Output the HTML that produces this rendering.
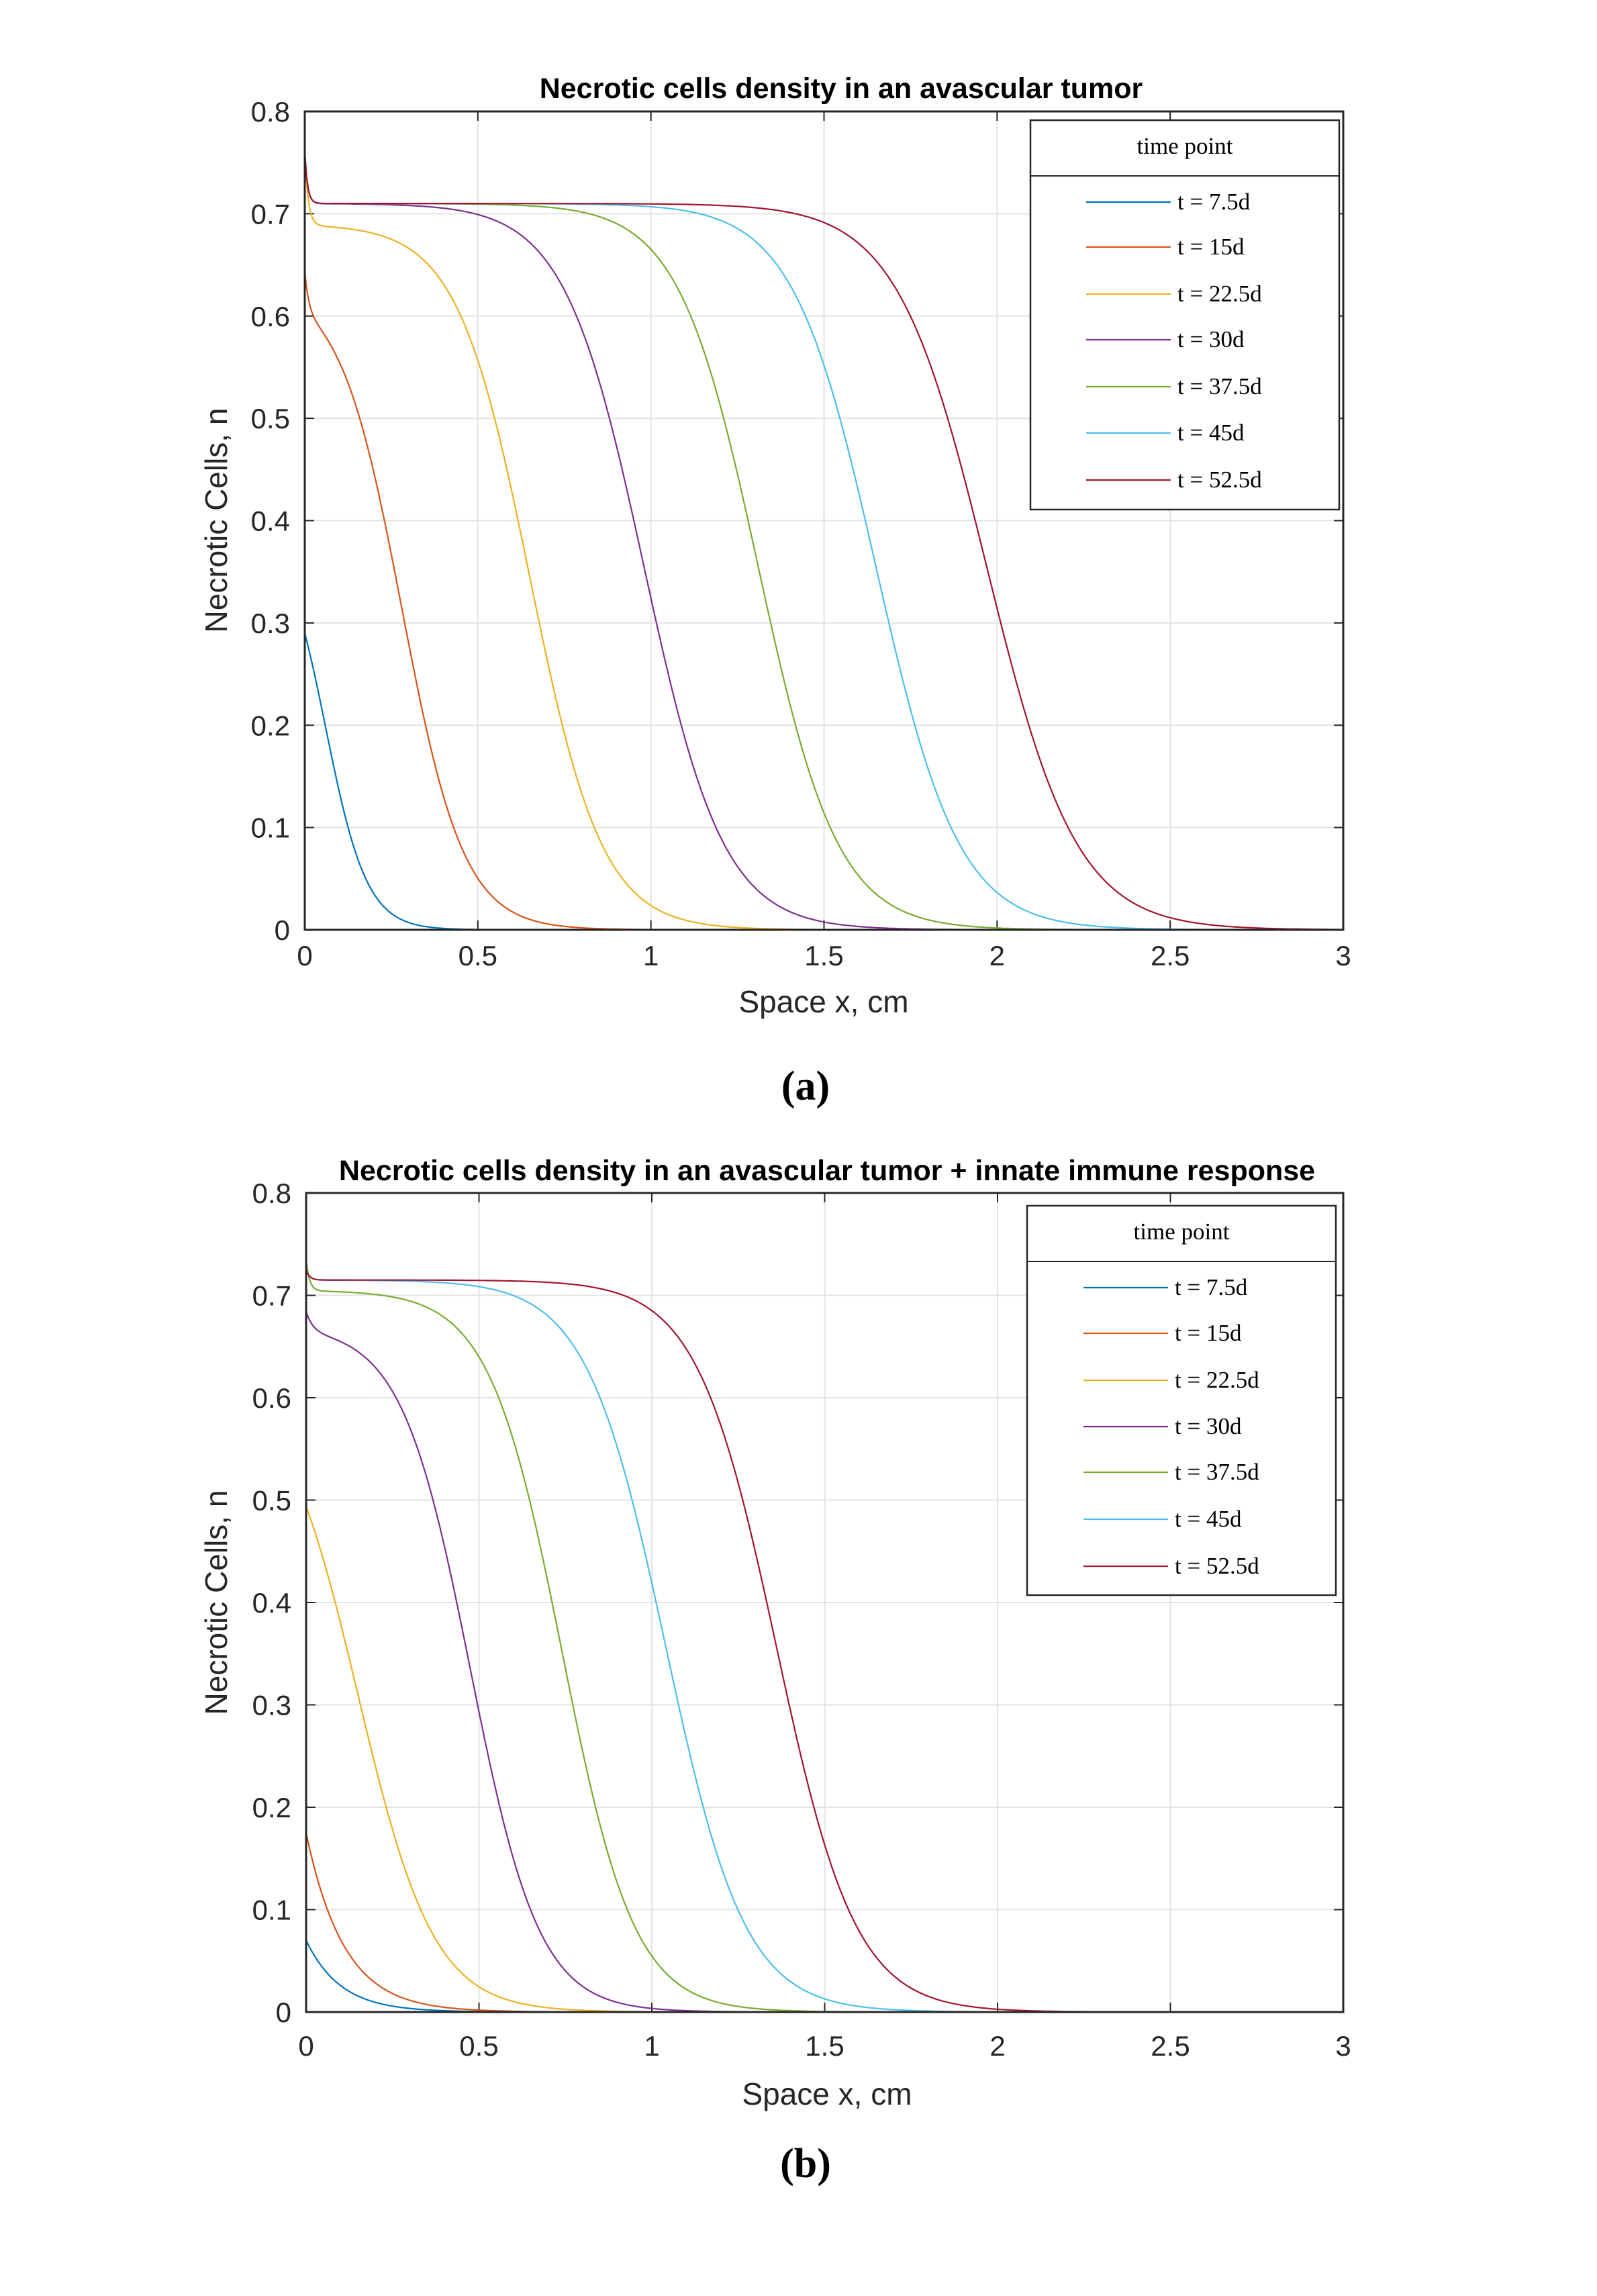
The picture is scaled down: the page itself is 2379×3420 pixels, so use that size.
<!DOCTYPE html>
<html><head><meta charset="utf-8"><style>
html,body{margin:0;padding:0;background:#fff;width:2379px;height:3420px;overflow:hidden}
svg{display:block}
</style></head><body>
<svg id="s" width="2379" height="3420" xmlns="http://www.w3.org/2000/svg" font-family="Liberation Sans, sans-serif">
<rect width="2379" height="3420" fill="#fff"/>
<g id="pa"></g>
<g id="pb"></g>
<text x="1253" y="146" font-size="43" font-weight="bold" text-anchor="middle" fill="#000">Necrotic cells density in an avascular tumor</text>
<text x="1232" y="1758" font-size="43" font-weight="bold" text-anchor="middle" fill="#000">Necrotic cells density in an avascular tumor + innate immune response</text>
<text transform="translate(338,775) rotate(-90)" font-size="46" text-anchor="middle" fill="#262626">Necrotic Cells, n</text>
<text transform="translate(338,2387) rotate(-90)" font-size="46" text-anchor="middle" fill="#262626">Necrotic Cells, n</text>
<text x="1227" y="1508" font-size="46" text-anchor="middle" fill="#262626">Space x, cm</text>
<text x="1232" y="3135" font-size="46" text-anchor="middle" fill="#262626">Space x, cm</text>
<text x="1200" y="1638" font-size="62" font-weight="bold" text-anchor="middle" font-family="Liberation Serif, serif">(a)</text>
<text x="1200" y="3243" font-size="62" font-weight="bold" text-anchor="middle" font-family="Liberation Serif, serif">(b)</text>
</svg>
<script>
var NS="http://www.w3.org/2000/svg";
function el(p,t,a,txt){var e=document.createElementNS(NS,t);for(var k in a)e.setAttribute(k,a[k]);if(txt!==undefined)e.textContent=txt;p.appendChild(e);return e;}
var cols=["#0072BD","#D95319","#EDB120","#7E2F8E","#77AC30","#4DBEEE","#A2142F"];
var labs=["t = 7.5d","t = 15d","t = 22.5d","t = 30d","t = 37.5d","t = 45d","t = 52.5d"];
function lg(P,m,w){return function(x){return P/(1+Math.exp((x-m)/w));};}
function spike(f,a0,d){return function(x){return f(x)+a0*Math.exp(-x/d);};}
var fa=[
 function(x){return 0.29*(1+Math.exp(-0.06/0.06))/(1+Math.exp((x-0.06)/0.06));},
 spike(lg(0.63,0.28,0.09),0.04,0.012),
 spike(lg(0.69,0.65,0.105),0.07,0.01),
 spike(lg(0.71,0.98,0.115),0.05,0.008),
 spike(lg(0.71,1.31,0.115),0.05,0.008),
 spike(lg(0.71,1.65,0.12),0.05,0.008),
 spike(lg(0.71,1.97,0.13),0.05,0.008)
];
var fb=[
 function(x){return 0.07*Math.exp(-x/0.1);},
 function(x){return 0.175*Math.exp(-x/0.11);},
 lg(0.62,0.15,0.11),
 spike(lg(0.67,0.475,0.1),0.02,0.02),
 spike(lg(0.705,0.74,0.105),0.03,0.01),
 spike(lg(0.715,1.04,0.115),0.01,0.01),
 spike(lg(0.715,1.36,0.115),0.01,0.01)
];
function plot(g,L,T,R,B,fs,leg,xtY){
 var W=R-L,H=B-T;
 function X(x){return L+x*W/3;} function Y(n){return B-n*H/0.8;}
 for(var i=1;i<6;i++)el(g,"line",{x1:X(i*0.5),x2:X(i*0.5),y1:T,y2:B,stroke:"#e3e3e3","stroke-width":2});
 for(var j=1;j<8;j++)el(g,"line",{x1:L,x2:R,y1:Y(j*0.1),y2:Y(j*0.1),stroke:"#e3e3e3","stroke-width":2});
 for(var i=0;i<7;i++){el(g,"line",{x1:X(i*0.5),x2:X(i*0.5),y1:B,y2:B-14,stroke:"#262626","stroke-width":2});el(g,"line",{x1:X(i*0.5),x2:X(i*0.5),y1:T,y2:T+14,stroke:"#262626","stroke-width":2});
  el(g,"text",{x:X(i*0.5),y:xtY,"font-size":42,"text-anchor":"middle",fill:"#262626"},String(i*0.5));}
 for(var j=0;j<9;j++){el(g,"line",{x1:L,x2:L+14,y1:Y(j*0.1),y2:Y(j*0.1),stroke:"#262626","stroke-width":2});el(g,"line",{x1:R,x2:R-14,y1:Y(j*0.1),y2:Y(j*0.1),stroke:"#262626","stroke-width":2});
  el(g,"text",{x:L-22,y:Y(j*0.1)+15,"font-size":42,"text-anchor":"end",fill:"#262626"},j==0?"0":(j/10).toFixed(1));}
 for(var k=0;k<7;k++){var d="";for(var s=0;s<=600;s++){var x=s*3/600;var v=Math.max(0,fs[k](x));d+=(s?"L":"M")+X(x).toFixed(1)+","+Y(v).toFixed(1);}
  el(g,"path",{d:d,fill:"none",stroke:cols[k],"stroke-width":2.2});}
 el(g,"rect",{x:L,y:T,width:W,height:H,fill:"none",stroke:"#262626","stroke-width":3});
 el(g,"rect",{x:leg.x,y:leg.y,width:leg.w,height:leg.h,fill:"#fff",stroke:"#262626","stroke-width":2.5});
 el(g,"line",{x1:leg.x,x2:leg.x+leg.w,y1:leg.sep,y2:leg.sep,stroke:"#262626","stroke-width":2});
 el(g,"text",{x:leg.x+leg.w/2,y:leg.y+50,"font-size":35,"text-anchor":"middle","font-family":"Liberation Serif, serif",fill:"#000"},"time point");
 for(var k=0;k<7;k++){var yy=leg.ys[k];el(g,"line",{x1:leg.l1,x2:leg.l2,y1:yy,y2:yy,stroke:cols[k],"stroke-width":2.2});
  el(g,"text",{x:leg.l2+10,y:yy+11,"font-size":35,"font-family":"Liberation Serif, serif",fill:"#000"},labs[k]);}
}
plot(document.getElementById("pa"),454,166,2001,1385,fa,{x:1535,y:179,w:460,h:580,sep:262,ys:[301,368,438,506,576,645,715],l1:1618,l2:1744},1438);
plot(document.getElementById("pb"),456,1777,2001,2997,fb,{x:1530,y:1796,w:460,h:580,sep:1879,ys:[1918,1986,2056,2125,2193,2263,2333],l1:1614,l2:1740},3062);
</script>
</body></html>
